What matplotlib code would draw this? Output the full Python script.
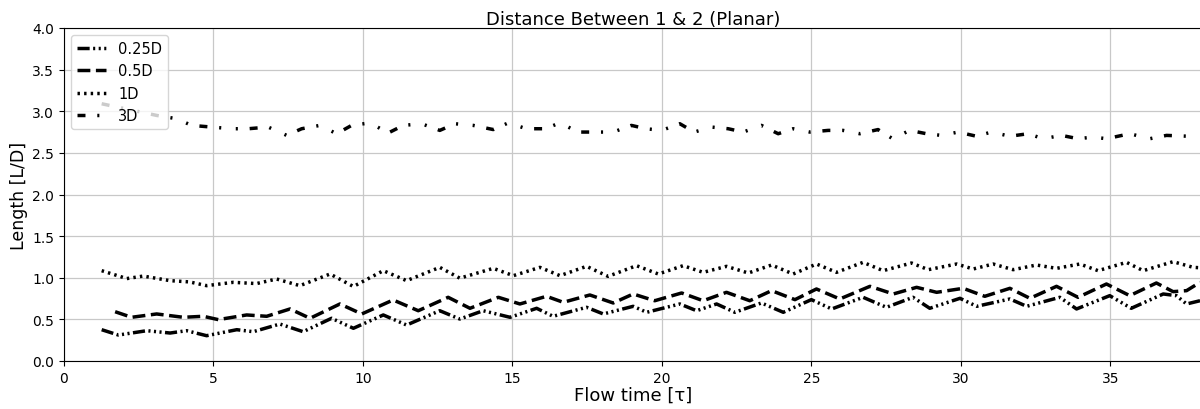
import numpy as np
import matplotlib
matplotlib.use("Agg")
from matplotlib import pyplot as plt

# Separation between body 1 and 2, sampled from the run at varying flow times
t_025 = [1.26, 1.82, 2.77, 3.55, 4.10, 4.77, 5.78, 6.33, 7.22, 8.00, 8.95, 9.68,
         10.68, 11.46, 12.57, 13.24, 14.02, 14.92, 15.81, 16.36, 17.48, 18.04,
         19.04, 19.49, 20.60, 21.16, 21.83, 22.44, 23.33, 24.06, 25.00, 25.68,
         26.73, 27.51, 28.40, 28.96, 29.97, 30.53, 31.64, 32.20, 33.31, 33.87,
         34.98, 35.70, 36.77, 37.21, 37.55, 38.00]
d_025 = [0.376, 0.312, 0.364, 0.336, 0.364, 0.304, 0.376, 0.352, 0.444, 0.352,
         0.513, 0.393, 0.553, 0.432, 0.604, 0.504, 0.604, 0.525, 0.633, 0.537,
         0.645, 0.565, 0.657, 0.585, 0.685, 0.604, 0.685, 0.585, 0.697, 0.585,
         0.737, 0.625, 0.765, 0.645, 0.765, 0.633, 0.753, 0.657, 0.745, 0.657,
         0.765, 0.625, 0.785, 0.633, 0.805, 0.785, 0.685, 0.724]

t_05 = [1.71, 2.26, 3.10, 3.99, 4.66, 5.16, 6.11, 6.78, 7.56, 8.23, 9.23, 9.96,
        11.01, 11.85, 12.85, 13.58, 14.53, 15.25, 16.14, 16.70, 17.59, 18.37,
        19.04, 19.76, 20.66, 21.38, 22.16, 22.94, 23.67, 24.45, 25.17, 25.95,
        26.96, 27.74, 28.52, 29.19, 30.08, 30.80, 31.64, 32.31, 33.20, 33.92,
        34.87, 35.65, 36.54, 37.10, 37.55, 38.00]
d_05 = [0.592, 0.525, 0.565, 0.525, 0.537, 0.497, 0.553, 0.537, 0.625, 0.513,
        0.685, 0.565, 0.733, 0.604, 0.765, 0.633, 0.765, 0.685, 0.777, 0.705,
        0.793, 0.697, 0.805, 0.724, 0.817, 0.724, 0.825, 0.724, 0.845, 0.737,
        0.865, 0.745, 0.897, 0.805, 0.885, 0.825, 0.873, 0.777, 0.873, 0.753,
        0.897, 0.765, 0.925, 0.785, 0.937, 0.833, 0.845, 0.945]

t_1 = [1.26, 2.10, 2.65, 3.55, 4.20, 4.77, 5.66, 6.44, 7.11, 7.89, 8.90, 9.68,
       10.68, 11.46, 12.57, 13.24, 14.36, 15.03, 15.92, 16.59, 17.48, 18.20,
       19.15, 19.88, 20.71, 21.38, 22.16, 22.89, 23.67, 24.39, 25.17, 25.84,
       26.73, 27.40, 28.35, 28.91, 29.86, 30.41, 31.08, 31.75, 32.53, 33.20,
       33.98, 34.59, 35.54, 36.10, 37.10, 37.77, 38.00]
d_1 = [1.085, 0.990, 1.020, 0.965, 0.950, 0.905, 0.945, 0.930, 0.985, 0.905,
       1.045, 0.895, 1.085, 0.965, 1.125, 0.995, 1.113, 1.025, 1.125, 1.025,
       1.137, 1.017, 1.145, 1.045, 1.145, 1.065, 1.137, 1.057, 1.153, 1.045,
       1.165, 1.065, 1.185, 1.085, 1.177, 1.097, 1.165, 1.105, 1.165, 1.097,
       1.153, 1.113, 1.165, 1.085, 1.185, 1.085, 1.193, 1.125, 1.120]

t_3 = [1.26, 3.10, 3.77, 4.27, 4.94, 5.61, 6.16, 6.83, 7.45, 7.95, 8.56, 9.12,
       9.62, 10.23, 10.85, 11.35, 11.96, 12.57, 13.08, 13.69, 14.36, 14.86,
       15.47, 16.09, 16.59, 17.20, 18.37, 18.98, 19.47, 19.99, 20.60, 21.08,
       21.66, 22.22, 22.72, 23.33, 23.89, 24.39, 24.95, 25.56, 26.06, 26.62,
       27.23, 27.72, 28.29, 28.85, 29.35, 29.91, 30.52, 31.02, 31.64, 32.25,
       32.75, 33.37, 33.92, 34.43, 34.87, 35.65, 36.32, 36.88, 37.60, 37.90]
d_3 = [3.09, 2.95, 2.91, 2.83, 2.81, 2.79, 2.79, 2.81, 2.71, 2.79, 2.83, 2.73,
       2.83, 2.86, 2.74, 2.83, 2.85, 2.77, 2.85, 2.83, 2.78, 2.86, 2.79, 2.79,
       2.86, 2.75, 2.75, 2.83, 2.79, 2.77, 2.85, 2.75, 2.81, 2.79, 2.75, 2.83,
       2.73, 2.79, 2.75, 2.77, 2.77, 2.73, 2.78, 2.67, 2.77, 2.73, 2.71, 2.75,
       2.70, 2.75, 2.70, 2.73, 2.67, 2.71, 2.67, 2.69, 2.67, 2.73, 2.67, 2.71,
       2.70, 2.66]

labels = ["0.25D", "0.5D", "1D", "3D"]

fig = plt.figure(figsize=(12, 4.1), dpi=100)
ax = fig.add_axes([64 / 1200, 1 - 362 / 410, 1139 / 1200, 333 / 410])

lw = 2.5
ax.plot(t_025, d_025, color="black", linewidth=lw,
        linestyle=(0, (3.5, 1.0, 0.6, 1.0, 0.6, 1.0, 0.6, 1.0)), label=labels[0])
ax.plot(t_05, d_05, color="black", linewidth=lw,
        linestyle=(0, (3.7, 1.6)), label=labels[1])
ax.plot(t_1, d_1, color="black", linewidth=lw,
        linestyle=(0, (0.7, 1.2)), label=labels[2])
ax.plot(t_3, d_3, color="black", linewidth=lw,
        linestyle=(0, (2.3, 3.4, 0.6, 4.2, 0.6, 3.4)), label=labels[3])

ax.set_xlim(0, 38.1)
ax.set_ylim(0, 4.0)
ax.set_xticks(np.arange(0, 36, 5))
ax.set_yticks(np.arange(0, 4.01, 0.5))
ax.tick_params(labelsize=10)
ax.grid(True, color="#c8c8c8", linewidth=0.9)
ax.set_axisbelow(True)

ax.set_title("Distance Between 1 & 2 (Planar)", fontsize=13, pad=3)
ax.set_xlabel("Flow time [τ]", fontsize=13, labelpad=1)
ax.set_ylabel("Length [L/D]", fontsize=12.5, labelpad=3)
ax.legend(loc="upper left", fontsize=10.5, handlelength=2.0, labelspacing=0.5)

fig.savefig("out.png", dpi=100)
